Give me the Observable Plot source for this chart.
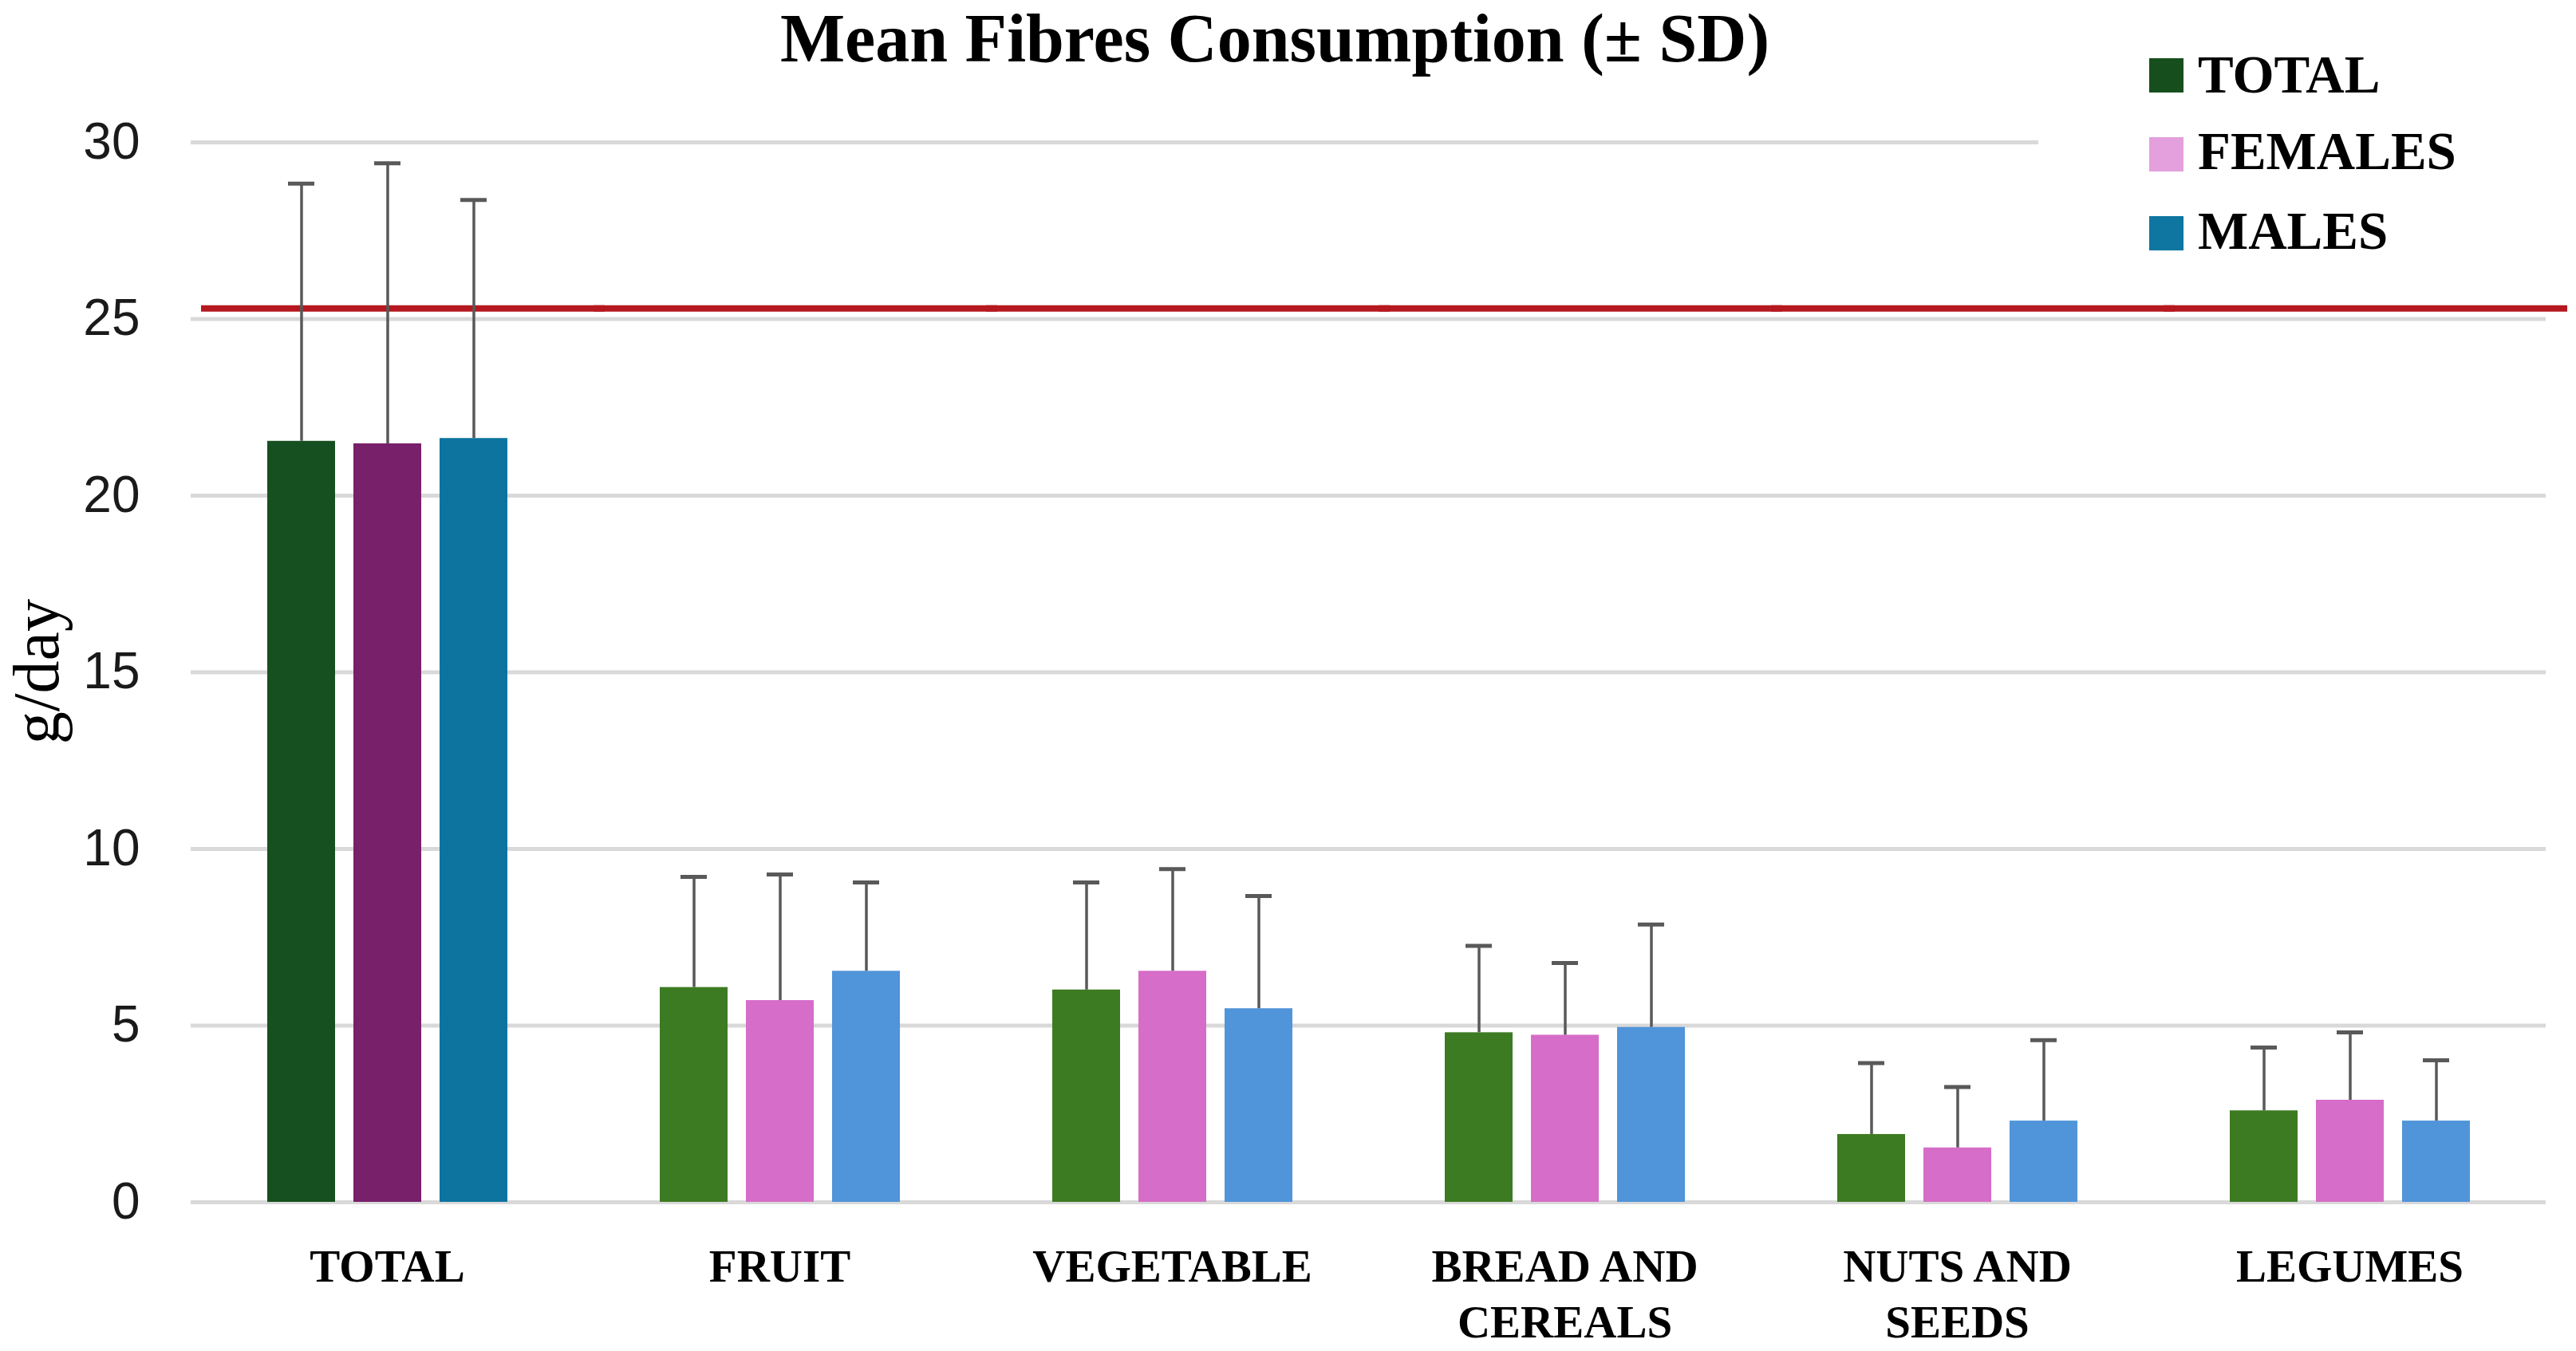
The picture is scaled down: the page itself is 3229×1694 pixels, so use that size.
<!DOCTYPE html>
<html>
<head>
<meta charset="utf-8">
<script src="https://cdn.jsdelivr.net/npm/d3@7"></script>
<script src="https://cdn.jsdelivr.net/npm/@observablehq/plot@0.6"></script>
<style>
  html, body { margin: 0; padding: 0; background: #ffffff; }
  #wrap { position: relative; width: 3229px; height: 1694px; overflow: hidden; background: #fff; }
  #chart { position: absolute; left: 0; top: 0; }
  #title { position: absolute; left: 0; top: 0px; width: 3196px; text-align: center;
           font-family: "Liberation Serif", serif; font-weight: bold; font-size: 86px; line-height: 1.12; color: #000; white-space: nowrap; }
  #ylabel { position: absolute; left: 9px; top: 751px; writing-mode: vertical-rl; transform: rotate(180deg);
            font-family: "Liberation Serif", serif; font-size: 82px; line-height: 0.9; color: #000; white-space: nowrap; }
  #legendbox { position: absolute; left: 2555px; top: 20px; width: 640px; height: 345px; background: #fff; }
  .sw { position: absolute; width: 43px; height: 43px; }
  .lt { position: absolute; font-family: "Liberation Serif", serif; font-weight: bold; font-size: 67px; line-height: 1.12; color: #000; white-space: nowrap; }
</style>
</head>
<body>
<div id="wrap">
  <div id="chart"></div>
  <div id="title"></div>
  <div id="ylabel"></div>
  <div id="legendbox"></div>
</div>
<script>
// ---- data ----
const categories = ["TOTAL", "FRUIT", "VEGETABLE", "BREAD AND CEREALS", "NUTS AND SEEDS", "LEGUMES"];
const categoryLabels = ["TOTAL", "FRUIT", "VEGETABLE", "BREAD AND\nCEREALS", "NUTS AND\nSEEDS", "LEGUMES"];
const groups = ["TOTAL", "FEMALES", "MALES"];

const meanTotal   = [21.54, 6.08, 6.01, 4.80, 1.92, 2.59];
const sdTotal     = [7.29, 3.13, 3.04, 2.46, 2.02, 1.79];
const meanFemales = [21.47, 5.71, 6.54, 4.73, 1.54, 2.89];
const sdFemales   = [7.94, 3.57, 2.89, 2.04, 1.72, 1.92];
const meanMales   = [21.62, 6.54, 5.48, 4.95, 2.30, 2.30];
const sdMales     = [6.75, 2.51, 3.19, 2.91, 2.29, 1.72];

const yTicks = [0, 5, 10, 15, 20, 25, 30];
const referenceLine = 25.3;

const titleText = "Mean Fibres Consumption (\u00B1 SD)";
const yLabelText = "g/day";

// ---- styles ----
const darkFill  = ["#165020", "#78206a", "#0d74a0"];
const lightFill = ["#3d7b22", "#d66dc8", "#5094d9"];
const legendFill = ["#164f1d", "#e3a0dc", "#0e76a0"];

const means = [meanTotal, meanFemales, meanMales];
const sds = [sdTotal, sdFemales, sdMales];
const data = categories.flatMap((c, i) =>
  groups.map((g, j) => ({category: c, group: g, mean: means[j][i], sd: sds[j][i]}))
);

const fillOf = d => (d.category === "TOTAL" ? darkFill : lightFill)[groups.indexOf(d.group)];

const chart = Plot.plot({
  width: 3229,
  height: 1694,
  marginLeft: 239,
  marginRight: 38,
  marginTop: 178,
  marginBottom: 187,
  style: {background: "transparent", overflow: "visible"},
  fx: {domain: categories, padding: 0},
  x: {domain: groups, paddingInner: 0.213, paddingOuter: 0.884, axis: null},
  y: {domain: [0, 30]},
  color: {type: "identity"},
  marks: [
    Plot.gridY(yTicks, {stroke: "#d9d9d9", strokeOpacity: 1, strokeWidth: 5}),
    Plot.ruleY([referenceLine], {stroke: "#b5181f", strokeWidth: 8, insetLeft: 13, insetRight: -27}),
    Plot.barY(data, {fx: "category", x: "group", y: "mean", fill: fillOf}),
    Plot.ruleX(data, {fx: "category", x: "group", y1: "mean", y2: d => d.mean + d.sd, stroke: "#595959", strokeWidth: 3.5}),
    Plot.tickY(data, {fx: "category", x: "group", y: d => d.mean + d.sd, stroke: "#595959", strokeWidth: 5, insetLeft: 26, insetRight: 26}),
    Plot.axisY(yTicks, {tickSize: 0, tickPadding: 64, fontSize: 64, fontFamily: "Liberation Sans", fill: "#1a1a1a", label: null}),
    Plot.axisFx({anchor: "bottom", tickSize: 0, tickPadding: 49, fontSize: 57, fontWeight: "bold",
                 fontFamily: "Liberation Serif", fill: "#000", lineHeight: 1.24, label: null,
                 tickFormat: c => categoryLabels[categories.indexOf(c)]})
  ]
});
document.getElementById("chart").appendChild(chart);

document.getElementById("title").textContent = titleText;
document.getElementById("ylabel").textContent = yLabelText;

// legend (HTML, over a white box like the original)
const wrap = document.getElementById("wrap");
const swatchTops = [73, 172, 271];
const textTops = [56, 152, 252];
groups.forEach((g, i) => {
  const sw = document.createElement("div");
  sw.className = "sw";
  sw.style.left = "2694px";
  sw.style.top = swatchTops[i] + "px";
  sw.style.background = legendFill[i];
  wrap.appendChild(sw);
  const t = document.createElement("div");
  t.className = "lt";
  t.style.left = "2755px";
  t.style.top = textTops[i] + "px";
  t.textContent = g;
  wrap.appendChild(t);
});
</script>
</body>
</html>
